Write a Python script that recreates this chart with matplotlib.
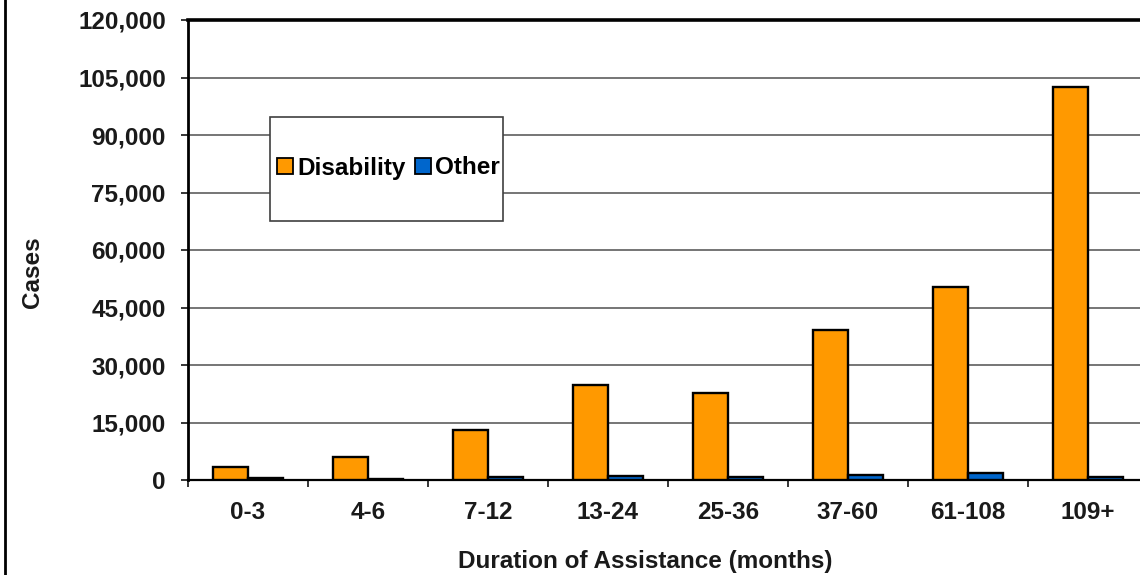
import matplotlib
matplotlib.use("Agg")
import matplotlib.pyplot as plt
from matplotlib.patches import Rectangle
from matplotlib.lines import Line2D
from matplotlib.ticker import FuncFormatter, MultipleLocator
import numpy as np

plt.rcParams['font.family'] = ['Liberation Sans', 'DejaVu Sans']
plt.rcParams['font.weight'] = 'bold'

categories = ['0-3', '4-6', '7-12', '13-24', '25-36', '37-60', '61-108', '109+']
disability = [3400, 6100, 13000, 24800, 22800, 39200, 50300, 102500]
other = [400, 300, 700, 1000, 700, 1300, 1900, 700]
series_names = ['Disability', 'Other']
series_colors = ['#FF9900', '#0066CC']

W, H = 1140, 575
fig = plt.figure(figsize=(W / 100, H / 100), dpi=100)

# plot area: left edge at x=188, category width 120 px, runs past the right edge
ax = fig.add_axes([188 / W, 1 - 480 / H, 960 / W, 460 / H])

x = np.arange(len(categories))
bw = 0.29
ax.bar(x - bw / 2, disability, width=bw, color=series_colors[0],
       edgecolor='black', linewidth=1.7, zorder=3)
ax.bar(x + bw / 2, other, width=bw, color=series_colors[1],
       edgecolor='black', linewidth=1.7, zorder=3)

ax.set_xlim(-0.5, len(categories) - 0.5)
ax.set_ylim(0, 120000)
ax.yaxis.set_major_locator(MultipleLocator(15000))
ax.yaxis.set_major_formatter(FuncFormatter(lambda v, p: f'{int(v):,}'))
ax.yaxis.grid(True, color='#505050', linewidth=1.1, zorder=0)
ax.set_axisbelow(True)

ax.set_xticks(x)
ax.set_xticklabels(categories)
ax.set_xticks(np.arange(len(categories) + 1) - 0.5, minor=True)
ax.tick_params(axis='x', which='major', length=0, pad=15, labelsize=17.5)
ax.tick_params(axis='x', which='minor', length=5, width=1.1, direction='out')
ax.tick_params(axis='y', length=5, width=1.1, direction='out', pad=11, labelsize=17.5)
for lab in ax.get_xticklabels() + ax.get_yticklabels():
    lab.set_fontweight('bold')
    lab.set_color('#1a1a1a')

ax.spines['left'].set_linewidth(2.0)
ax.spines['bottom'].set_linewidth(1.6)
ax.spines['top'].set_linewidth(2.6)
ax.spines['right'].set_visible(False)

ax.set_xlabel('Duration of Assistance (months)', fontsize=17.5, fontweight='bold',
              color='#1a1a1a')
ax.xaxis.set_label_coords((645 - 188) / 960, -(550 - 480) / 460)
ax.set_ylabel('Cases', fontsize=17.5, fontweight='bold', color='#1a1a1a')
ax.yaxis.set_label_coords(-(188 - 44) / 960, (480 - 272) / 460)

# legend box
box = Rectangle((270 / W, 1 - 221 / H), (503 - 270) / W, (221 - 117) / H,
                transform=fig.transFigure, facecolor='white',
                edgecolor='#404040', linewidth=1.2, zorder=5)
fig.add_artist(box)
handles = [Line2D([], [], marker='s', linestyle='none', markersize=11,
                  markerfacecolor=c, markeredgecolor='black', markeredgewidth=1.3)
           for c in series_colors]
leg = fig.legend(handles, series_names, loc='center',
                 bbox_to_anchor=(389 / W, 1 - 168 / H), ncol=2, frameon=False,
                 prop={'weight': 'bold', 'size': 17.5}, handlelength=0.55,
                 handletextpad=0.2, columnspacing=0.45, borderpad=0)
leg.set_zorder(6)

# outer chart frame on the left
fig.add_artist(Line2D([5 / W, 5 / W], [0, 1], transform=fig.transFigure,
                      color='black', linewidth=2.0))

fig.savefig('out.png', dpi=100)
